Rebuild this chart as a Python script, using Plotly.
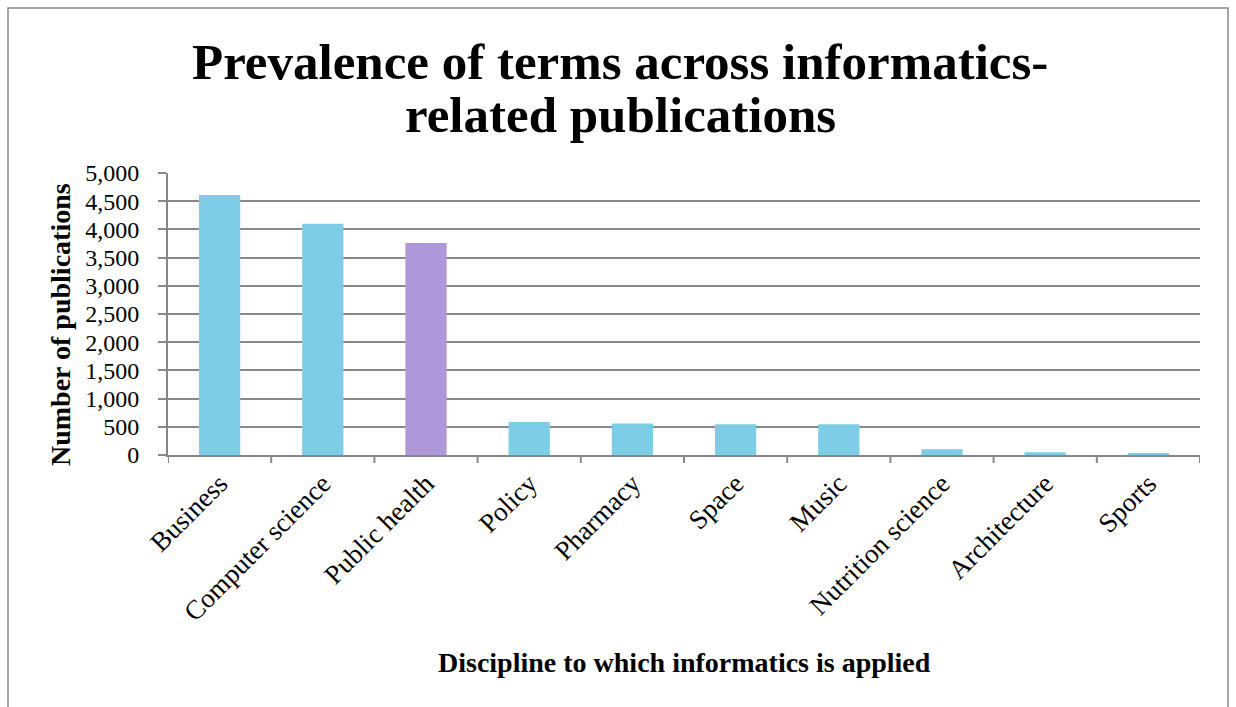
import plotly.graph_objects as go

categories = ["Business", "Computer science", "Public health", "Policy", "Pharmacy",
              "Space", "Music", "Nutrition science", "Architecture", "Sports"]
values = [4610, 4100, 3760, 585, 560, 545, 545, 100, 48, 18]
highlight = "Public health"
title_lines = ["Prevalence of terms across informatics-", "related publications"]

BLUE = "#7ECDE6"
PURPLE = "#AE98DA"
colors = [PURPLE if c == highlight else BLUE for c in categories]

W, H = 1236, 707
L, R, T, B = 168, 36, 173, 252
pw, ph = W - L - R, H - T - B

def px(x):
    return (x - L) / pw

def py(y):
    return (H - B - y) / ph

FONT = "Liberation Serif"
GRAY = "#888888"

fig = go.Figure(go.Bar(x=categories, y=values, marker=dict(color=colors, line=dict(width=0)),
                       width=0.4))

fig.update_layout(
    width=W, height=H,
    margin=dict(l=L, r=R, t=T, b=B, autoexpand=False),
    paper_bgcolor="white", plot_bgcolor="white",
    showlegend=False,
    font=dict(family=FONT, color="black", size=20),
    xaxis=dict(type="category", tickangle=-45, showgrid=False, showline=True,
               linecolor=GRAY, linewidth=2, ticks="",
               tickfont=dict(size=27, family=FONT), range=[-0.5, 9.5]),
    yaxis=dict(range=[0, 5000], dtick=500, tickformat=",d", showgrid=True,
               gridcolor=GRAY, gridwidth=1.5, showline=True, linecolor=GRAY,
               linewidth=2, ticks="outside", ticklen=8, tickcolor=GRAY, tickwidth=2,
               ticklabelstandoff=14,
               tickfont=dict(size=24, family=FONT), zeroline=False),
)

# category boundary tick marks on x axis
for i in range(len(categories) + 1):
    fig.add_shape(type="line", xref="x", yref="paper", x0=i - 0.5, x1=i - 0.5,
                  y0=0, y1=-8 / ph, line=dict(color=GRAY, width=2))

# outer border
fig.add_shape(type="rect", xref="paper", yref="paper", x0=px(8), x1=px(1228),
              y0=py(720), y1=py(8), line=dict(color=GRAY, width=1.5), layer="below")

# title lines
for text, yc in zip(title_lines, [62, 115]):
    fig.add_annotation(text="<b>" + text + "</b>", xref="paper", yref="paper",
                       x=px(620), y=py(yc), xanchor="center", yanchor="middle",
                       showarrow=False, font=dict(family=FONT, size=51, color="black"))

fig.add_annotation(text="<b>Number of publications</b>", xref="paper", yref="paper",
                   x=px(60), y=py(325), xanchor="center", yanchor="middle",
                   textangle=-90, showarrow=False,
                   font=dict(family=FONT, size=28, color="black"))
fig.add_annotation(text="<b>Discipline to which informatics is applied</b>", xref="paper",
                   yref="paper", x=0.5, y=py(662), xanchor="center", yanchor="middle",
                   showarrow=False, font=dict(family=FONT, size=28, color="black"))

fig.write_html("out.html")
